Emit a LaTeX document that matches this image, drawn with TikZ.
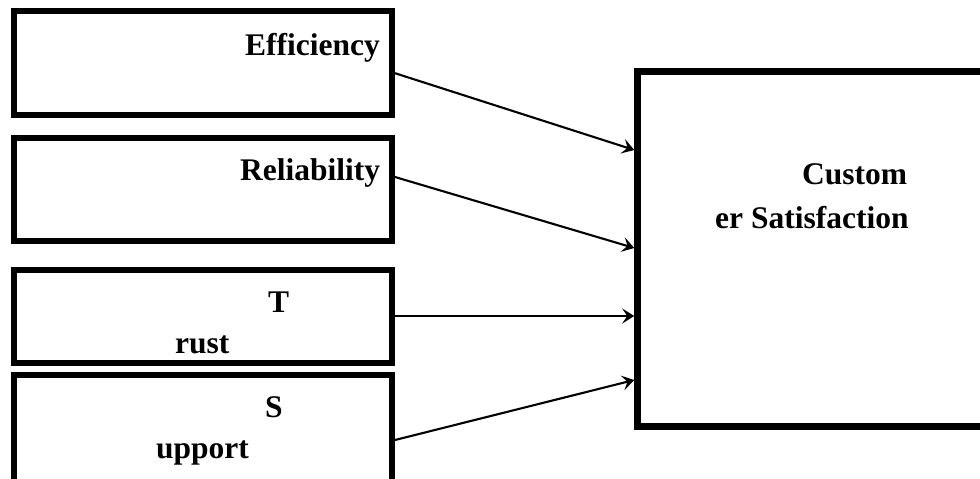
\documentclass[tikz,border=0pt]{standalone}
\usepackage{fontspec}
\setmainfont{Liberation Serif}
\usetikzlibrary{arrows.meta}
\tikzset{frame/.style={draw, line width=6pt, minimum width=378pt, inner sep=0pt}}
\tikzset{bigframe/.style={draw, line width=6.5pt, minimum width=360pt, minimum height=355pt, inner sep=0pt}}
\tikzset{txt/.style={anchor=base west, inner sep=0pt, font=\fontsize{31.5}{36}\selectfont\bfseries}}
\tikzset{arrow/.style={line width=2.1pt, -{Stealth[length=12pt, width=15pt, inset=5pt]}}}

\begin{document}
\begin{tikzpicture}[x=1pt, y=-1pt]
\useasboundingbox (0,0) rectangle (980,479);
\clip (0,0) rectangle (980,479);
% factor boxes
\node[frame, minimum height=103.5pt] (eff) at (203,63.2) {};
\node[frame, minimum height=103pt] (rel) at (203,189.5) {};
\node[frame, minimum height=93.5pt] (trust) at (203,316.7) {};
\node[frame, minimum height=115pt] (supp) at (203,432.5) {};
% outcome box
\node[bigframe] (cs) at (817.5,249) {};
% labels
\node[txt] (efftxt) at (245,55) {Efficiency};
\node[txt] (reltxt) at (240,180) {Reliability};
\node[txt] (trusta) at (268,312) {T};
\node[txt] (trustb) at (175,353) {rust};
\node[txt] (suppa) at (265,417) {S};
\node[txt] (suppb) at (156,458) {upport};
\node[txt] (csa) at (802,184) {Custom};
\node[txt] (csb) at (715,228) {er Satisfaction};
% links
\draw[arrow] ([yshift=-10pt]eff.east) -- ([yshift=99pt]cs.west);
\draw[arrow] ([yshift=12.5pt]rel.east) -- ([yshift=1pt]cs.west);
\draw[arrow] ([yshift=0.7pt]trust.east) -- ([yshift=-67pt]cs.west);
%\draw[arrow] (supp.east) -- (cs.west);
\draw[arrow] ([yshift=-7.5pt]supp.east) -- ([yshift=-131pt]cs.west);
\end{tikzpicture}
\end{document}
